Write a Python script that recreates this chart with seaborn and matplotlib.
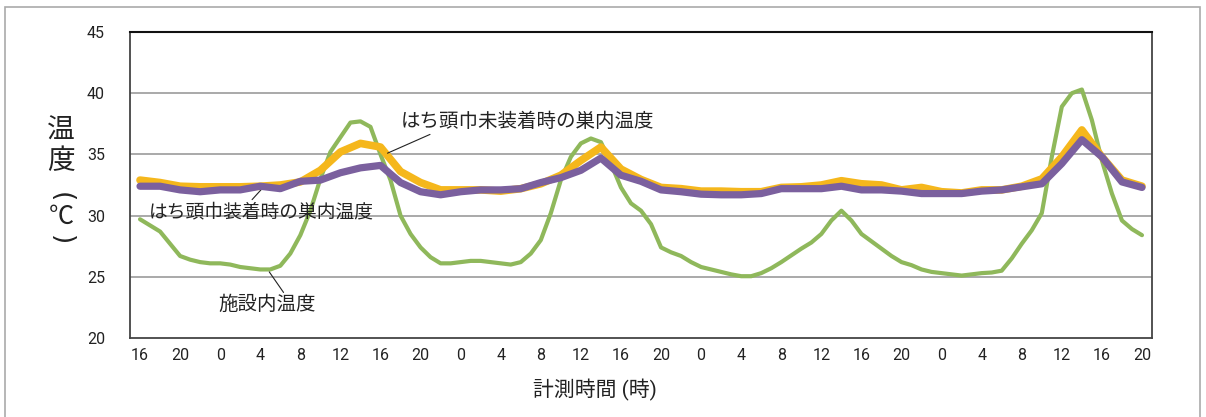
import numpy as np
import pandas as pd
import matplotlib
matplotlib.use("Agg")
import matplotlib.pyplot as plt
from matplotlib.patches import Rectangle
import seaborn as sns

# hours from 16:00 of the first day
hours_facility = list(range(0, 101))      # read every hour
hours_nest = list(range(0, 101, 2))       # read every 2 hours

# 施設内温度 (green)
facility = [29.7, 29.2, 28.7, 27.7, 26.7, 26.4, 26.2, 26.1, 26.1, 26.0,
            25.8, 25.7, 25.6, 25.6, 25.9, 26.9, 28.4, 30.4, 33.0, 35.2,
            36.4, 37.6, 37.7, 37.25, 35.0, 32.9, 30.0, 28.5, 27.4, 26.6,
            26.1, 26.1, 26.2, 26.3, 26.3, 26.2, 26.1, 26.0, 26.2, 26.9,
            28.0, 30.2, 32.9, 34.8, 35.9, 36.3, 36.0, 34.25, 32.3, 31.0,
            30.4, 29.3, 27.4, 27.0, 26.7, 26.2, 25.8, 25.6, 25.4, 25.2,
            25.05, 25.05, 25.3, 25.7, 26.2, 26.75, 27.3, 27.8, 28.5, 29.6,
            30.4, 29.6, 28.5, 27.9, 27.3, 26.7, 26.2, 25.95, 25.6, 25.4,
            25.3, 25.2, 25.1, 25.2, 25.3, 25.35, 25.5, 26.5, 27.7, 28.8,
            30.2, 34.8, 38.9, 40.0, 40.3, 37.8, 34.5, 31.8, 29.6, 28.9,
            28.4]

# はち頭巾未装着時の巣内温度 (orange)
no_hood = [32.9, 32.7, 32.4, 32.35, 32.35, 32.35, 32.4, 32.5, 32.75, 33.7,
           35.2, 35.9, 35.6, 33.6, 32.7, 32.1, 32.1, 32.1, 32.0, 32.2,
           32.6, 33.3, 34.5, 35.6, 33.8, 32.95, 32.3, 32.2, 32.0, 32.0,
           31.95, 31.95, 32.3, 32.35, 32.5, 32.85, 32.6, 32.5, 32.1, 32.3,
           31.95, 31.85, 32.1, 32.1, 32.4, 33.0, 34.8, 37.0, 34.8, 32.9, 32.4]

# はち頭巾装着時の巣内温度 (purple)
with_hood = [32.4, 32.4, 32.1, 31.95, 32.1, 32.1, 32.4, 32.2, 32.8, 32.9,
             33.5, 33.9, 34.1, 32.7, 31.95, 31.7, 31.95, 32.1, 32.1, 32.2,
             32.7, 33.1, 33.7, 34.7, 33.3, 32.8, 32.1, 31.95, 31.75, 31.7,
             31.7, 31.8, 32.2, 32.2, 32.2, 32.4, 32.1, 32.1, 32.0, 31.8,
             31.8, 31.8, 32.0, 32.1, 32.35, 32.6, 34.25, 36.2, 34.8, 32.75, 32.3]

tick_hours = list(range(0, 101, 4))
tick_labels = [str((16 + h) % 24) for h in tick_hours]

df_fac = pd.DataFrame({"hour": hours_facility, "temp": facility})
df_nest = pd.DataFrame({"hour": hours_nest, "no_hood": no_hood, "with_hood": with_hood})

sns.set_style("white")
plt.rcParams["font.family"] = ["Roboto", "Noto Sans CJK JP", "DejaVu Sans"]

fig = plt.figure(figsize=(12.06, 4.17), dpi=100)
ax = fig.add_axes([130 / 1206, 1 - 338 / 417, 1022 / 1206, 306 / 417])

# grid
for v in [25, 30, 35, 40]:
    ax.axhline(v, color="#a3a3a3", lw=1.3, zorder=0)

# green at the back, purple on top
sns.lineplot(data=df_fac, x="hour", y="temp", ax=ax, color="#8fb85b", lw=3.0,
             solid_capstyle="round", solid_joinstyle="round", zorder=2)
sns.lineplot(data=df_nest, x="hour", y="no_hood", ax=ax, color="#f5b71c", lw=5.5,
             solid_capstyle="round", solid_joinstyle="round", zorder=3)
sns.lineplot(data=df_nest, x="hour", y="with_hood", ax=ax, color="#7b609e", lw=5.2,
             solid_capstyle="round", solid_joinstyle="round", zorder=4)

ax.set_xlim(-1, 101)
ax.set_ylim(20, 45)
ax.set_xticks(tick_hours)
ax.set_xticklabels(tick_labels)
ax.set_xticks(list(range(-1, 102, 2)), minor=True)
ax.tick_params(axis="x", which="major", length=0, pad=7, labelsize=11.5, colors="#222222")
ax.tick_params(axis="x", which="minor", length=4, width=1, color="#555555", direction="out")
ax.set_yticks([20, 25, 30, 35, 40, 45])
ax.tick_params(axis="y", length=6, width=1, pad=12, labelsize=11.5, colors="#222222")
ax.tick_params(axis="y", color="#555555")
ax.set_xlabel("")
ax.set_ylabel("")

for side in ["left", "bottom", "right"]:
    ax.spines[side].set_color("#444444")
    ax.spines[side].set_linewidth(1.3)
ax.spines["top"].set_color("#111111")
ax.spines["top"].set_linewidth(1.5)

# annotations
ax.annotate("はち頭巾未装着時の巣内温度", xy=(24.7, 35.1), xytext=(38.7, 37.65),
            ha="center", va="center", fontsize=14, color="#222222",
            arrowprops=dict(arrowstyle="-", color="#222222", lw=0.8,
                            shrinkA=0, shrinkB=0, relpos=(0.16, 0.1)))
ax.annotate("はち頭巾装着時の巣内温度", xy=(12.4, 32.4), xytext=(12.07, 30.3),
            ha="center", va="center", fontsize=13.5, color="#222222",
            arrowprops=dict(arrowstyle="-", color="#222222", lw=0.8,
                            shrinkA=0, shrinkB=0, relpos=(0.44, 0.9)))
ax.annotate("施設内温度", xy=(12.9, 25.4), xytext=(12.67, 22.7),
            ha="center", va="center", fontsize=14, color="#222222",
            arrowprops=dict(arrowstyle="-", color="#222222", lw=0.8,
                            shrinkA=0, shrinkB=0, relpos=(0.7, 0.95)))

# axis titles
fig.text(595 / 1206, 1 - 390 / 417, "計測時間 (時)", ha="center", va="center",
         fontsize=15, color="#222222")
fig.text(61 / 1206, 1 - 131 / 417, "温", ha="center", va="center", fontsize=20, color="#222222")
fig.text(61 / 1206, 1 - 161 / 417, "度", ha="center", va="center", fontsize=20, color="#222222")
fig.text(61 / 1206, 1 - 197 / 417, "(", ha="center", va="center", fontsize=19,
         rotation=-90, color="#222222", family="DejaVu Sans")
fig.text(61 / 1206, 1 - 217 / 417, "℃", ha="center", va="center", fontsize=18, color="#222222",
         family="Noto Sans CJK JP")
fig.text(61 / 1206, 1 - 240 / 417, ")", ha="center", va="center", fontsize=19,
         rotation=-90, color="#222222", family="DejaVu Sans")

# outer frame
fig.add_artist(Rectangle((5 / 1206, -0.1), 1195 / 1206, 1.1 - 7 / 417,
                         transform=fig.transFigure, fill=False,
                         edgecolor="#aaaaaa", lw=1.2))

fig.savefig("out.png", dpi=100)
